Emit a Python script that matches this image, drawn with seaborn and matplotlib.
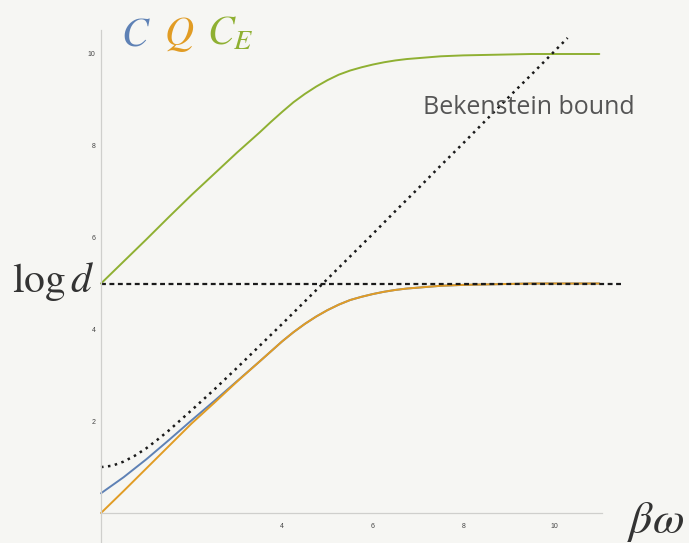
import matplotlib
matplotlib.use("Agg")
import matplotlib.pyplot as plt
import seaborn as sns
import pandas as pd

# --- data -------------------------------------------------------------
beta_omega = [0.0, 0.5, 1.0, 1.5, 2.0, 2.5, 3.0, 3.5, 3.75, 4.0, 4.25, 4.5, 4.75,
              5.0, 5.25, 5.5, 5.75, 6.0, 6.25, 6.5, 6.75, 7.0, 7.5, 8.0, 8.5,
              9.0, 9.5, 10.0, 10.5, 11.0]
C_vals = [0.43, 0.78, 1.17, 1.59, 2.02, 2.44, 2.87, 3.30, 3.52, 3.74, 3.94, 4.12, 4.28,
          4.42, 4.54, 4.64, 4.71, 4.77, 4.82, 4.86, 4.89, 4.91, 4.95, 4.97, 4.98,
          4.99, 5.00, 5.00, 5.00, 5.00]
Q_vals = [0.00, 0.48, 0.97, 1.46, 1.95, 2.40, 2.86, 3.30, 3.52, 3.74, 3.94, 4.12, 4.28,
          4.42, 4.54, 4.64, 4.71, 4.77, 4.82, 4.86, 4.89, 4.91, 4.95, 4.97, 4.98,
          4.99, 5.00, 5.00, 5.00, 5.00]
CE_vals = [5.00, 5.48, 5.96, 6.45, 6.93, 7.39, 7.85, 8.29, 8.52, 8.74, 8.95, 9.13, 9.29,
           9.43, 9.55, 9.64, 9.71, 9.77, 9.82, 9.86, 9.89, 9.91, 9.95, 9.97, 9.98,
           9.99, 10.00, 10.00, 10.00, 10.00]

bek_x = [0.0, 0.25, 0.5, 0.75, 1.0, 1.25, 1.5, 2.0, 2.5, 3.0, 3.5, 4.0, 4.5, 5.0,
         5.5, 6.0, 6.5, 7.0, 7.5, 8.0, 8.5, 9.0, 9.5, 10.0, 10.3]
bek_y = [1.00, 1.03, 1.12, 1.25, 1.41, 1.60, 1.80, 2.24, 2.69, 3.16, 3.64, 4.12, 4.61,
         5.10, 5.59, 6.08, 6.58, 7.07, 7.57, 8.06, 8.56, 9.06, 9.55, 10.05, 10.35]

log_d = 5.0
log_d_x = [0.0, 11.5]

x_ticks = [4, 6, 8, 10]
y_ticks = [2, 4, 6, 8, 10]

colors = {"C": "#5E81B5", "Q": "#E19C24", "C_E": "#8FB032"}
bg = "#f6f6f3"

# --- style ------------------------------------------------------------
sns.set_theme(style="white")
plt.rcParams["mathtext.fontset"] = "stix"
plt.rcParams["font.family"] = ["Liberation Sans", "DejaVu Sans"]

W, H = 689, 543
fig = plt.figure(figsize=(W / 100, H / 100), dpi=100, facecolor=bg)
ax = fig.add_axes([0, 0, 1, 1], facecolor=bg)

n = len(beta_omega)
df = pd.DataFrame({"x": beta_omega * 3,
                   "y": C_vals + Q_vals + CE_vals,
                   "series": ["C"] * n + ["Q"] * n + ["C_E"] * n})

for name in ["C", "C_E", "Q"]:
    sub = df[df["series"] == name]
    sns.lineplot(data=sub, x="x", y="y", color=colors[name], lw=1.4,
                 ax=ax, legend=False, sort=True, estimator=None)

# Bekenstein bound and log d reference line
sns.lineplot(x=bek_x, y=bek_y, color="#1a1a1a", lw=1.8,
             linestyle=(0, (1, 1.8)), ax=ax, estimator=None, sort=False)
sns.lineplot(x=log_d_x, y=[log_d, log_d], color="#1a1a1a", lw=1.6,
             linestyle=(0, (2.2, 1.6)), ax=ax, estimator=None, sort=False)

# pixel-calibrated limits: x=0 at px 101, y=0 at px 513
x0, sx = 101.0, 45.3
y0, sy = 513.0, 45.9
ax.set_xlim(-x0 / sx, (W - x0) / sx)
ax.set_ylim(-(H - y0) / sy, y0 / sy)

# axes through the origin
for s in ["top", "right"]:
    ax.spines[s].set_visible(False)
ax.spines["left"].set_position(("data", 0))
ax.spines["bottom"].set_position(("data", 0))
ax.spines["left"].set_bounds(-(H - y0) / sy, (y0 - 30) / sy)
ax.spines["bottom"].set_bounds(0, (602 - x0) / sx)
for s in ["left", "bottom"]:
    ax.spines[s].set_color("#cfcfcc")
    ax.spines[s].set_linewidth(0.9)

ax.set_xticks(x_ticks)
ax.set_yticks(y_ticks)
ax.set_xticklabels([str(t) for t in x_ticks])
ax.set_yticklabels([str(t) for t in y_ticks])
ax.tick_params(axis="both", length=2, width=0.5, color="#cfcfcc",
               labelsize=5, labelcolor="#444444", direction="out")
ax.tick_params(axis="x", pad=5)
ax.tick_params(axis="y", pad=2)
ax.set_xlabel("")
ax.set_ylabel("")


def fx(px):
    return px / W


def fy(py):
    return 1 - py / H


# series labels
fig.text(fx(121), fy(45), r"$C$", color=colors["C"], fontsize=29, va="baseline")
fig.text(fx(164), fy(45), r"$Q$", color=colors["Q"], fontsize=29, va="baseline")
fig.text(fx(207), fy(45), r"$C_E$", color=colors["C_E"], fontsize=29, va="baseline")

fig.text(fx(94), fy(292), r"$\log d$", color="#333333", fontsize=30,
         ha="right", va="baseline")
fig.text(fx(627), fy(533), r"$\beta\omega$", color="#333333", fontsize=33,
         ha="left", va="baseline")
fig.text(fx(423), fy(114), "Bekenstein bound", color="#555555", fontsize=18,
         family=["Open Sans", "DejaVu Sans"], ha="left", va="baseline")

fig.savefig("out.png", dpi=100, facecolor=bg)
